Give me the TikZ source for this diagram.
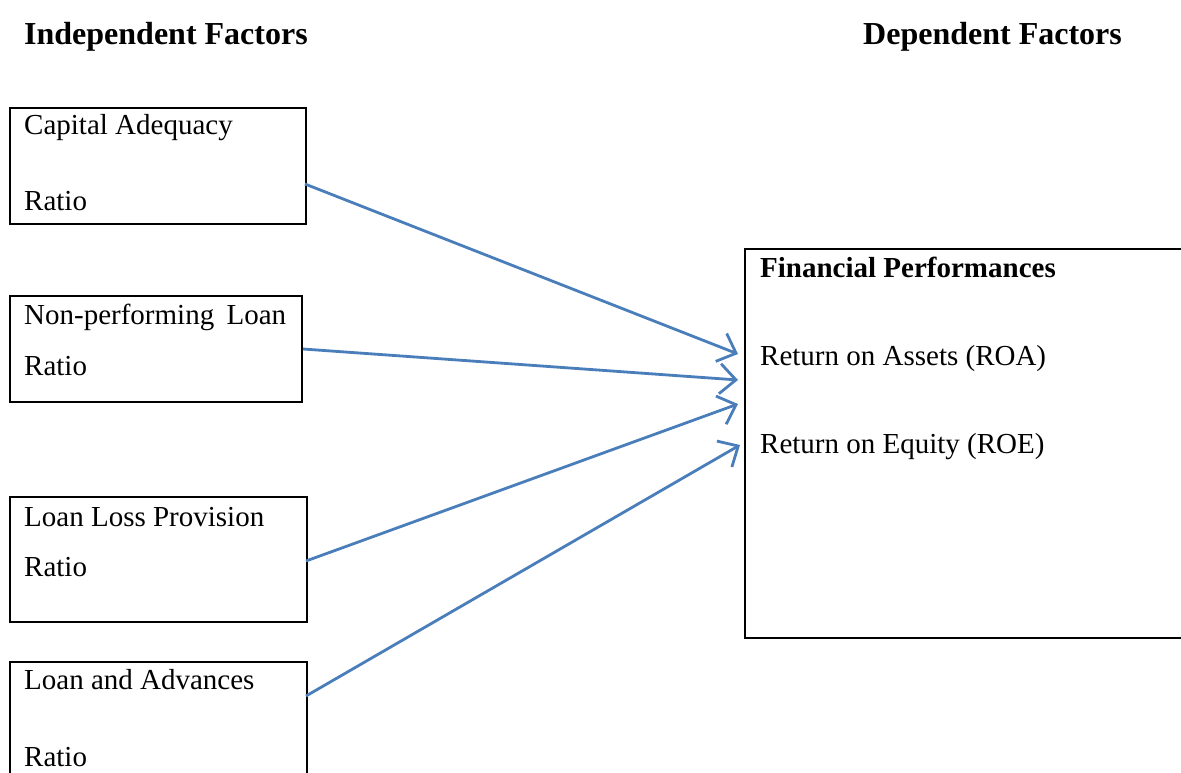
\documentclass[tikz,border=0pt]{standalone}
\usepackage{fontspec}
\setmainfont{Liberation Serif}
\usetikzlibrary{arrows.meta}
\definecolor{linkblue}{RGB}{74,126,187}
\tikzset{
  factorbox/.style={draw=black, line width=2.4pt},
  label/.style={inner sep=0pt, anchor=base west, font=\fontsize{29}{34}\selectfont},
  heading/.style={inner sep=0pt, anchor=base west, font=\fontsize{32}{38}\selectfont\bfseries},
  link/.style={draw=linkblue, line width=2.8pt,
    -{Straight Barb[length=16pt,width=30pt,line width=2.8pt]}}
}
\begin{document}
\begin{tikzpicture}[x=1pt, y=-1pt]
  \clip (0,0) rectangle (1181,773);
  \fill[white] (0,0) rectangle (1181,773);

  % column headings
  \node[heading] (hIndep) at (24,45) {Independent Factors};
  \node[heading] (hDep) at (863,45) {Dependent Factors};

  % independent factor boxes
  \draw[factorbox] (10,108) rectangle (306,224);
  \node[label] (carA) at (24,135) {Capital Adequacy};
  \node[label] (carB) at (24,211) {Ratio};

  \draw[factorbox] (10,296) rectangle (302,402);
  \node[label] (nplA) at (24,324) {\hbox to 262pt{Non-performing\hfil Loan}};
  \node[label] (nplB) at (24,375) {Ratio};

  \draw[factorbox] (10,497) rectangle (307,622);
  \node[label] (llpA) at (24,526) {Loan Loss Provision};
  \node[label] (llpB) at (24,576) {Ratio};

  \draw[factorbox] (10,662) rectangle (307,800);
  \node[label] (laA) at (24,689) {Loan and Advances};
  \node[label] (laB) at (24,766) {Ratio};

  % dependent factor box
  \draw[factorbox] (1200,249) -- (745,249) -- (745,638) -- (1200,638);
  \node[heading, font=\fontsize{29}{34}\selectfont\bfseries] (fp) at (760,277) {Financial Performances};
  \node[label] (roa) at (760,365) {Return on Assets (ROA)};
  \node[label] (roe) at (760,453) {Return on Equity (ROE)};

  % connector end points on the box edges
  \coordinate (s1) at (305,184);
  \coordinate (s2) at (303,349);
  \coordinate (s3) at (306,561);
  \coordinate (s4) at (306,696);
  \coordinate (t1) at (738,354);
  \coordinate (t2) at (738,380);
  \coordinate (t3) at (738,404);
  \coordinate (t4) at (740,445);

  \draw[link] (s1) -- (t1);
  \draw[link] (s2) -- (t2);
  \draw[link] (s3) -- (t3);
  \draw[link] (s4) -- (t4);
\end{tikzpicture}
\end{document}
